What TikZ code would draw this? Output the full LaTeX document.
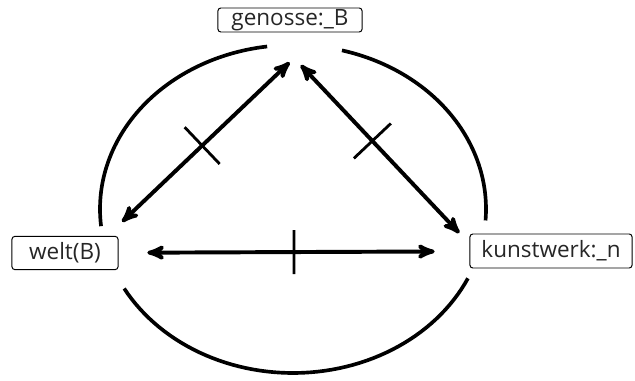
\documentclass[tikz,border=0pt]{standalone}
\usepackage{fontspec}
\setmainfont{Open Sans}
\usepackage{tikz}
\usetikzlibrary{positioning, arrows}
\tikzset{
>=stealth', % makes the arrow heads bold
box/.style={draw, line width=0.7pt, rounded corners=2pt, inner sep=0pt, text=black!85, font=\fontsize{16}{18}\selectfont}, % the three labelled boxes
link/.style={<->, line width=2.8pt}, % the double headed arrows
tick/.style={draw, line width=2pt, minimum width=0pt, inner sep=0pt, sloped}, % the stroke across an arrow
ring/.style={line width=2.6pt}, % pieces of the big circle
}

\begin{document}
\begin{tikzpicture}[x=0.025cm, y=-0.025cm]
            \useasboundingbox (0,0) rectangle (635,380);
            \node[box, minimum width=3.6cm, minimum height=0.6cm] (genosse) at (290,20) {genosse:\_B};
            \node[box, minimum width=2.65cm, minimum height=0.83cm] (welt) at (65,253) {welt(B)};
            \node[box, minimum width=4.05cm, minimum height=0.85cm] (kunstwerk) at (551,251) {kunstwerk:\_n};
            \foreach \a/\b in {97.7/186, 209/335, -4/75.3}
                \draw[ring] plot[domain=\a:\b, samples=60] ({293+193*cos(\x)},{209-164*sin(\x)});
            \draw
                (welt.22) edge[link, shorten <=0.51cm, shorten >=1.08cm] node[tick, pos=0.444, minimum height=1.27cm]{} (genosse.-22)
                (genosse.212) edge[link, shorten <=1.12cm, shorten >=0.37cm] node[tick, pos=0.513, minimum height=1.27cm]{} (kunstwerk.175)
                (welt) edge[link, shorten <=0.72cm, shorten >=0.87cm] node[tick, pos=0.5, minimum height=1.1cm]{} (kunstwerk)
                ;
        \end{tikzpicture}
\end{document}
